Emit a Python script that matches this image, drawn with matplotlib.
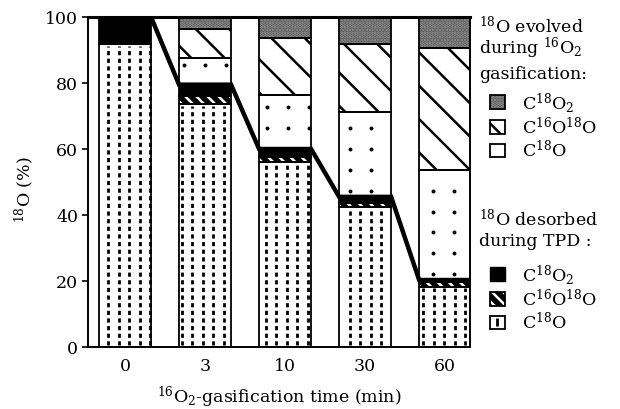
import matplotlib
matplotlib.use("Agg")
import matplotlib.pyplot as plt
import matplotlib.patches as mpatches
from matplotlib.lines import Line2D
import numpy as np

plt.rcParams.update({
    "font.family": "DejaVu Serif",
    "mathtext.fontset": "dejavuserif",
    "font.size": 12.5,
    "hatch.linewidth": 1.8,
    "axes.linewidth": 1.4,
})

times = ["0", "3", "10", "30", "60"]

# 18O desorbed during TPD (%)
tpd_c18o = [91.8, 73.5, 56.0, 42.5, 18.3]
tpd_c16o18o = [0.0, 2.5, 1.5, 1.0, 1.5]
tpd_c18o2 = [8.2, 3.5, 2.5, 2.0, 0.5]

# 18O evolved during 16O2 gasification (%)
evo_c18o = [0.0, 8.1, 16.5, 25.7, 33.3]
evo_c16o18o = [0.0, 8.8, 17.0, 20.6, 36.9]
evo_c18o2 = [0.0, 3.6, 6.5, 8.2, 9.5]

W = 0.65
XLIM = (-0.4625, 4.31)
STIPPLE = "#4a4a4a"

# (values, facecolor, hatch, hatch colour)
segments = [
    (tpd_c18o, "white", None, "black"),
    (tpd_c16o18o, "black", "\\\\\\", "white"),
    (tpd_c18o2, "black", None, "black"),
    (evo_c18o, "white", None, "black"),
    (evo_c16o18o, "white", "\\", "black"),
    (evo_c18o2, STIPPLE, ".....", "#9a9a9a"),
]

fig = plt.figure(figsize=(6.2, 4.1), dpi=100)
ax = fig.add_axes([88 / 620, 62 / 410, 382 / 620, 330 / 410])

x = np.arange(len(times))
bottom = np.zeros(len(times))
bottoms = []
for vals, fc, hatch, hc in segments:
    vals = np.array(vals)
    bottoms.append(bottom.copy())
    ax.bar(x, vals, W, bottom=bottom, color=fc, hatch=hatch, edgecolor=hc,
           linewidth=0, zorder=2)
    ax.bar(x, vals, W, bottom=bottom, fill=False, edgecolor="black",
           linewidth=1.3, zorder=4)
    bottom += vals

# texture 1: columns of short vertical dashes in TPD C18O (a fixed grid)
dash_cols = np.arange(-0.2125 - 0.13125 * 3, XLIM[1], 0.13125)
for xi, h in zip(x, tpd_c18o):
    cols = dash_cols[(dash_cols > xi - W / 2 + 0.025) & (dash_cols < xi + W / 2 - 0.01)]
    ax.vlines(cols, 0.5, h - 0.5, colors="black", linewidth=2.0,
              linestyles=(0, (1.5, 1.25)), zorder=3)

# texture 2: sparse dot grid in evolved C18O
dot_cols = np.arange(0.7375 - 0.259375 * 3, XLIM[1], 0.259375)
dot_rows = np.arange(85.5, 0, -6.35)
for xi, b, h in zip(x, bottoms[3], evo_c18o):
    cx = dot_cols[(dot_cols > xi - W / 2 + 0.03) & (dot_cols < xi + W / 2 - 0.03)]
    ry = dot_rows[(dot_rows > b + 1.2) & (dot_rows < b + h - 1.2)]
    if len(cx) and len(ry):
        gx, gy = np.meshgrid(cx, ry)
        ax.scatter(gx.ravel(), gy.ravel(), s=8, color="black", lw=0, zorder=3)

# step line across the TPD totals
tpd_total = np.array(tpd_c18o) + np.array(tpd_c16o18o) + np.array(tpd_c18o2)
lx = np.column_stack([x - W / 2, x + W / 2]).ravel()
ly = np.repeat(tpd_total, 2)
ax.plot(lx, ly, color="black", lw=3.2, solid_joinstyle="miter", zorder=5)

ax.set_xlim(*XLIM)
ax.set_ylim(0, 100)
ax.set_xticks(x)
ax.set_xticklabels(times)
ax.set_yticks(range(0, 101, 20))
ax.tick_params(axis="x", length=0, pad=7)
ax.tick_params(axis="y", length=4, width=1.2, direction="out", pad=3)
ax.spines["top"].set_linewidth(2.2)
ax.set_xlabel(r"$^{16}$O$_2$-gasification time (min)", labelpad=7)
ax.set_ylabel(r"$^{18}$O (%)")
ax.yaxis.set_label_coords(-0.135, 0.48)

# legend headings
lx0 = 479 / 620
for txt, ypx in [(r"$^{18}$O evolved", 26), (r"during $^{16}$O$_2$", 48),
                 ("gasification:", 75), (r"$^{18}$O desorbed", 220),
                 ("during TPD :", 242)]:
    fig.text(lx0, 1 - ypx / 410, txt, ha="left", va="center")


def outline():
    return mpatches.Patch(facecolor="none", edgecolor="black", linewidth=1.3)


evo_handles = [
    (mpatches.Patch(facecolor=STIPPLE, edgecolor="#9a9a9a", hatch=".....", linewidth=0), outline()),
    (mpatches.Patch(facecolor="white", edgecolor="black", hatch="\\", linewidth=0), outline()),
    (outline(),),
]
tpd_handles = [
    (mpatches.Patch(facecolor="black", edgecolor="black"),),
    (mpatches.Patch(facecolor="black", edgecolor="white", hatch="\\\\\\", linewidth=0), outline()),
    (outline(), Line2D([], [], marker="|", ms=6, mew=2, color="black", ls="none")),
]
labels = [r"C$^{18}$O$_2$", r"C$^{16}$O$^{18}$O", r"C$^{18}$O"]

kw = dict(loc="upper left", frameon=False, borderpad=0, borderaxespad=0,
          handlelength=0.85, handleheight=0.85, handletextpad=1.0,
          labelspacing=0.12, fontsize=12.5)
leg1 = fig.legend(evo_handles, labels, bbox_to_anchor=(490 / 620, 1 - 91 / 410), **kw)
leg2 = fig.legend(tpd_handles, labels, bbox_to_anchor=(490 / 620, 1 - 263 / 410), **kw)

fig.savefig("out.png", dpi=100)
